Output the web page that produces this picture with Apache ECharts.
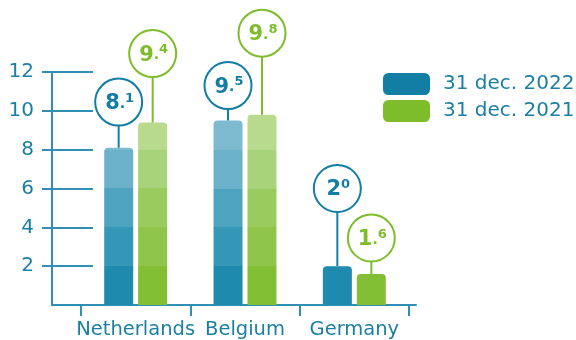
<!DOCTYPE html>
<html>
<head>
<meta charset="utf-8">
<script src="https://cdn.jsdelivr.net/npm/echarts@6/dist/echarts.min.js"></script>
<style>
  html, body { margin: 0; padding: 0; background: #fff; }
  #chart { width: 576px; height: 340px; }
</style>
</head>
<body>
<div id="chart"></div>
<script>
// data
const categories = ['Netherlands', 'Belgium', 'Germany'];
const seriesNames = ['31 dec. 2022', '31 dec. 2021'];
const values2022 = [8.1, 9.5, 2.0];
const values2021 = [9.4, 9.8, 1.6];
const yTicks = [2, 4, 6, 8, 10, 12];

// layout: where each bubble sits, in axis units
const bubbleLevel2022 = [10.45, 11.3, 6.0];
const bubbleLevel2021 = [12.95, 14.0, 3.45];

const FONT = 'DejaVu Sans';
const TEXT = '#1b7fa2';
const AXIS = '#2f8fb4';
const blueShades = ['#1e8aad', '#3597b7', '#4ea3c1', '#6bb1ca', '#7ebbd0'];
const greenShades = ['#83bf35', '#8fc54a', '#9acb5e', '#a9d37a', '#b7da8d'];
const blueMain = '#137ea3';
const greenMain = '#7dbd2c';

// stepped gradient, one shade per 2 units
function bandGradient(v, shades) {
  const stops = [];
  for (let i = 0; i * 2 < v; i++) {
    const lo = i * 2, hi = Math.min(v, i * 2 + 2);
    const c = shades[Math.min(i, shades.length - 1)];
    stops.unshift({ offset: (v - lo) / v, color: c });
    stops.unshift({ offset: (v - hi) / v, color: c });
  }
  return { type: 'linear', x: 0, y: 0, x2: 0, y2: 1, colorStops: stops };
}

function barData(vals, shades) {
  return vals.map(v => ({ value: v, itemStyle: { color: bandGradient(v, shades) } }));
}

const R = 23.5;
function renderBubble(offset, color) {
  return function (params, api) {
    const top = api.coord([api.value(0), api.value(1)]);
    const c = api.coord([api.value(0), api.value(2)]);
    const x = top[0] + offset;
    const parts = api.value(1).toFixed(1).split('.');
    const dot = parts[1] === '0' ? '' : '{b|.}';
    return {
      type: 'group',
      children: [
        { type: 'line', shape: { x1: x, y1: c[1] + R, x2: x, y2: top[1] },
          style: { stroke: color, lineWidth: 2 } },
        { type: 'circle', shape: { cx: x, cy: c[1], r: R },
          style: { fill: '#fff', stroke: color, lineWidth: 2 } },
        { type: 'text', x: x + 1, y: c[1] + 1,
          style: {
            text: '{a|' + parts[0] + '}' + dot + '{c|' + parts[1] + '}',
            align: 'center', verticalAlign: 'middle',
            rich: {
              a: { fontFamily: FONT, fontSize: 21, fontWeight: 'bold', fill: color, verticalAlign: 'bottom', lineHeight: 22 },
              b: { fontFamily: FONT, fontSize: 14, fontWeight: 'bold', fill: color, verticalAlign: 'bottom', padding: [0, 0, 3, 0] },
              c: { fontFamily: FONT, fontSize: 13, fontWeight: 'bold', fill: color, verticalAlign: 'top', lineHeight: 22 }
            }
          } }
      ]
    };
  };
}

const chart = echarts.init(document.getElementById('chart'));
chart.setOption({
  animation: false,
  textStyle: { fontFamily: FONT },
  grid: [
    { left: 52, right: 160, top: 72, bottom: 35 },
    { left: 81, right: 167, top: 72, bottom: 35 }
  ],
  legend: {
    orient: 'vertical',
    left: 378,
    top: 68,
    itemGap: 5,
    itemWidth: 47,
    itemHeight: 22,
    icon: 'roundRect',
    selectedMode: false,
    textStyle: { fontFamily: FONT, fontSize: 20, color: TEXT, padding: [2, 0, 0, 8] },
    data: [
      { name: seriesNames[0], itemStyle: { color: blueMain } },
      { name: seriesNames[1], itemStyle: { color: greenMain } }
    ]
  },
  xAxis: [
    {
      gridIndex: 0, type: 'value', min: 0, max: 1,
      axisLine: { show: true, lineStyle: { color: AXIS, width: 2 } },
      axisTick: { show: false }, axisLabel: { show: false }, splitLine: { show: false }
    },
    {
      gridIndex: 1, type: 'category', data: categories, boundaryGap: true,
      axisLine: { show: false },
      axisTick: { show: true, interval: 0, length: 11, lineStyle: { color: AXIS, width: 2 } },
      axisLabel: { interval: 0, fontFamily: FONT, fontSize: 19.5, color: TEXT, margin: 15 },
      splitLine: { show: false }
    }
  ],
  yAxis: [
    {
      gridIndex: 0, type: 'value', position: 'left', offset: 0, min: 0, max: 12, interval: 2,
      axisLine: { show: true, lineStyle: { color: AXIS, width: 2 } },
      axisTick: { show: true, length: 10, customValues: yTicks, lineStyle: { color: AXIS, width: 2 } },
      axisLabel: { customValues: yTicks, fontFamily: FONT, fontSize: 20, color: TEXT, margin: 18 },
      splitLine: { show: false }
    },
    {
      gridIndex: 0, type: 'value', position: 'left', offset: 0, min: 0, max: 12, interval: 2,
      axisLine: { show: false },
      axisTick: { show: true, inside: true, length: 41, customValues: yTicks, lineStyle: { color: AXIS, width: 2 } },
      axisLabel: { show: false },
      splitLine: { show: false }
    },
    {
      gridIndex: 1, type: 'value', min: 0, max: 12, show: false
    }
  ],
  series: [
    {
      name: seriesNames[0], type: 'bar', xAxisIndex: 1, yAxisIndex: 2,
      barWidth: 29, barGap: '17%',
      itemStyle: { borderRadius: [4, 4, 0, 0], color: blueMain },
      data: barData(values2022, blueShades)
    },
    {
      name: seriesNames[1], type: 'bar', xAxisIndex: 1, yAxisIndex: 2,
      barWidth: 29, barGap: '17%',
      itemStyle: { borderRadius: [4, 4, 0, 0], color: greenMain },
      data: barData(values2021, greenShades)
    },
    {
      type: 'custom', xAxisIndex: 1, yAxisIndex: 2, clip: false, silent: true, z: 3,
      renderItem: renderBubble(-17, blueMain),
      data: values2022.map((v, i) => [i, v, bubbleLevel2022[i]])
    },
    {
      type: 'custom', xAxisIndex: 1, yAxisIndex: 2, clip: false, silent: true, z: 3,
      renderItem: renderBubble(17, greenMain),
      data: values2021.map((v, i) => [i, v, bubbleLevel2021[i]])
    }
  ]
});
</script>
</body>
</html>
